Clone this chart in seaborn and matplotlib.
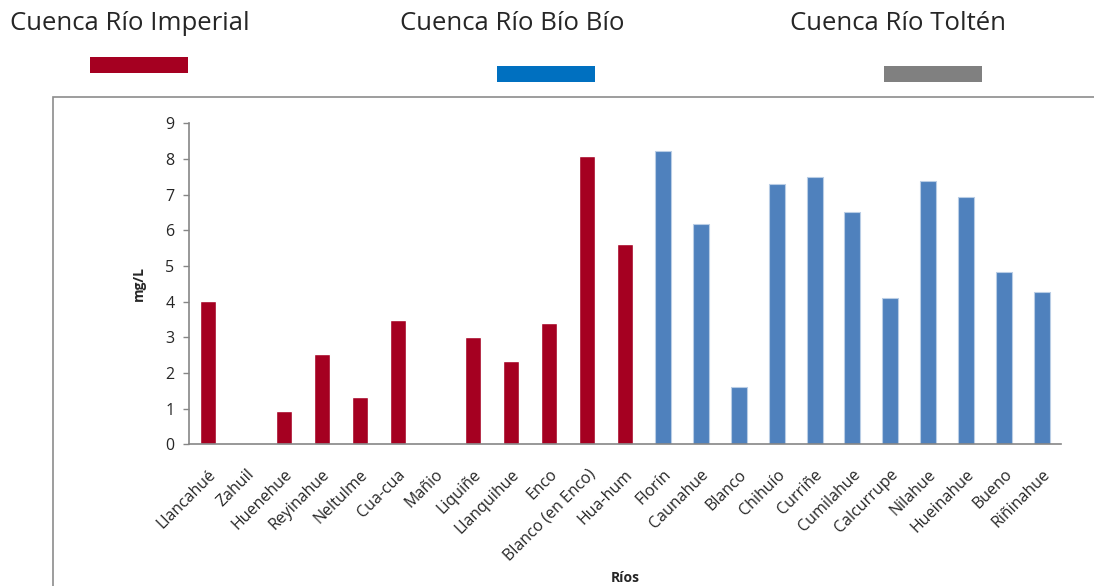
import matplotlib
matplotlib.use("Agg")
import pandas as pd
import seaborn as sns
from matplotlib import pyplot as plt
from matplotlib.patches import Rectangle

# data
rios = ["Llancahué", "Zahuil", "Huenehue", "Reyinahue", "Neltulme", "Cua-cua", "Mañio",
        "Liquiñe", "Llanquihue", "Enco", "Blanco (en Enco)", "Hua-hum",
        "Florín", "Caunahue", "Blanco", "Chihuío", "Curriñe", "Cumilahue", "Calcurrupe",
        "Nilahue", "Hueinahue", "Bueno", "Riñinahue"]
valores = [4.02, 0, 0.93, 2.53, 1.33, 3.49, 0, 3.01, 2.34, 3.40, 8.08, 5.62,
           8.21, 6.18, 1.61, 7.30, 7.49, 6.50, 4.09, 7.38, 6.93, 4.82, 4.26]
grupo = ["Imperial"] * 12 + ["Otros"] * 11
leyenda = ["Cuenca Río Imperial", "Cuenca Río Bío Bío", "Cuenca Río Toltén"]
colores_leyenda = ["#A50021", "#0070C0", "#808080"]

df = pd.DataFrame({"Ríos": rios, "mg/L": valores, "grupo": grupo})

sns.set_style("white")
plt.rcParams["font.family"] = ["Open Sans", "DejaVu Sans"]

fig = plt.figure(figsize=(10.94, 5.86), dpi=100)
ax = fig.add_axes([0.1728, 0.2418, 0.797, 0.5478])

sns.barplot(data=df, x="Ríos", y="mg/L", hue="grupo", dodge=False, width=0.42,
            palette={"Imperial": "#A50021", "Otros": "#4F81BD"}, saturation=1,
            legend=False, ax=ax)

# light edge on the blue bars, like the original
for p in ax.patches:
    if p.get_facecolor()[2] > 0.5:
        p.set_edgecolor("#B9CDE5")
        p.set_linewidth(0.8)

ax.set_ylim(0, 9)
ax.set_yticks(range(0, 10))
ax.tick_params(axis="y", labelsize=11.5, length=4.5, width=1, color="#868686",
               direction="out", pad=6, left=True)
ax.tick_params(axis="x", labelsize=11.5, length=0, pad=16)
ax.set_xticks(range(len(rios)))
ax.set_xticklabels(rios, rotation=45, ha="right", rotation_mode="anchor")
for s in ["top", "right"]:
    ax.spines[s].set_visible(False)
for s in ["left", "bottom"]:
    ax.spines[s].set_color("#868686")
    ax.spines[s].set_linewidth(1.2)

ax.set_ylabel("mg/L", fontsize=10, fontweight="bold", labelpad=14)
ax.set_xlabel("")
fig.text(625 / 1094, 1 - 578 / 586, "Ríos", fontsize=10, fontweight="bold",
         ha="center", va="center")

# legend-like header with coloured blocks
xs_txt = [10, 400, 790]
xs_box = [90, 497, 884]
ys_box = [57, 66, 66]
for t, c, xt, xb, yb in zip(leyenda, colores_leyenda, xs_txt, xs_box, ys_box):
    fig.text(xt / 1094, 1 - 24 / 586, t, fontsize=18.5, ha="left", va="center")
    fig.patches.append(Rectangle((xb / 1094, 1 - (yb + 16) / 586), 98 / 1094, 16 / 586,
                                 transform=fig.transFigure, facecolor=c, edgecolor="none"))

# outer chart border (runs off the right and bottom edges)
fig.patches.append(Rectangle((53 / 1094, -0.1), 1.2, 1 - 97 / 586 + 0.1,
                             transform=fig.transFigure, facecolor="none",
                             edgecolor="#8C8C8C", linewidth=1.2))

fig.savefig("out.png", dpi=100)
